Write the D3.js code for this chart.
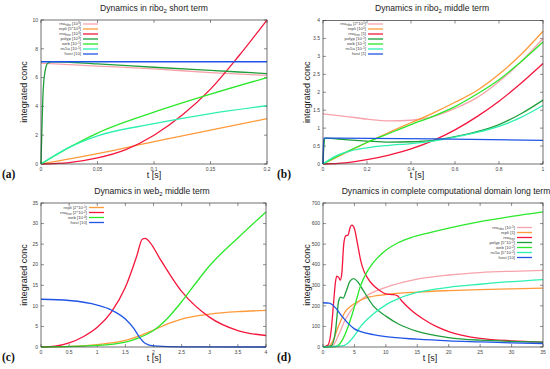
<!DOCTYPE html>
<html>
<head>
<meta charset="utf-8">
<script src="https://cdn.jsdelivr.net/npm/d3@7"></script>
<style>
  body { margin: 0; background: #fff; }
  svg { display: block; font-family: "Liberation Sans", Arial, sans-serif; }
</style>
</head>
<body>
<svg width="550" height="369"></svg>
<script>
// Colours per species
var colRibo = "#f7a3ab", colRepli = "#ff9a3a", colFree = "#f5163c",
    colPolyp = "#1f9e3c", colWeb = "#2be82b", colNs5a = "#2ef0b0", colHost = "#1f55e6";

// (a) ribo2 short term: [t, value]
var aRibo  = [[0,7.0],[0.05,6.8],[0.1,6.6],[0.15,6.35],[0.2,6.15]];
var aRepli = [[0,0],[0.05,0.72],[0.1,1.55],[0.15,2.35],[0.2,3.15]];
var aFree  = [[0,0],[0.025,0.1],[0.05,0.42],[0.075,1.0],[0.1,2.0],[0.125,3.4],[0.15,5.2],[0.175,7.5],[0.2,10.0]];
var aPolyp = [[0,0],[0.001,3.0],[0.002,5.2],[0.004,6.6],[0.006,7.0],[0.01,7.1],[0.05,6.95],[0.1,6.72],[0.15,6.5],[0.2,6.28]];
var aWeb   = [[0,0],[0.025,1.15],[0.05,2.15],[0.1,3.6],[0.15,4.85],[0.2,6.0]];
var aNs5a  = [[0,0],[0.025,1.15],[0.05,1.95],[0.1,2.8],[0.15,3.5],[0.2,4.05]];
var aHost  = [[0,7.1],[0.2,7.1]];

// (b) ribo2 middle term
var bRibo  = [[0,1.4],[0.1,1.33],[0.2,1.25],[0.3,1.2],[0.4,1.22],[0.5,1.32],[0.6,1.55],[0.7,1.85],[0.8,2.3],[0.9,2.85],[1,3.5]];
var bRepli = [[0,0],[0.1,0.3],[0.2,0.6],[0.3,0.88],[0.4,1.15],[0.5,1.42],[0.6,1.72],[0.7,2.05],[0.8,2.5],[0.9,3.05],[1,3.7]];
var bFree  = [[0,0],[0.1,0.03],[0.2,0.12],[0.3,0.25],[0.4,0.42],[0.5,0.65],[0.6,0.95],[0.7,1.32],[0.8,1.75],[0.9,2.25],[1,2.8]];
var bPolyp = [[0,0],[0.004,0.5],[0.01,0.72],[0.1,0.68],[0.2,0.64],[0.3,0.61],[0.4,0.62],[0.5,0.66],[0.6,0.76],[0.7,0.9],[0.8,1.1],[0.9,1.4],[1,1.78]];
var bWeb   = [[0,0],[0.1,0.32],[0.2,0.6],[0.3,0.85],[0.4,1.1],[0.5,1.33],[0.6,1.6],[0.7,1.95],[0.8,2.35],[0.9,2.85],[1,3.4]];
var bNs5a  = [[0,0],[0.05,0.2],[0.1,0.32],[0.2,0.45],[0.3,0.52],[0.4,0.57],[0.5,0.64],[0.6,0.75],[0.7,0.88],[0.8,1.05],[0.9,1.3],[1,1.63]];
var bHost  = [[0,0],[0.003,0.72],[0.5,0.7],[1,0.66]];

// (c) web2 middle term
var cRepli = [[0,0],[0.5,0.15],[1,0.6],[1.5,1.6],[1.75,2.7],[2,4.1],[2.25,5.6],[2.5,6.8],[3,8.0],[3.5,8.6],[4,8.9]];
var cFree  = [[0,0],[0.25,0.2],[0.5,1.0],[0.75,2.5],[1,4.8],[1.25,8.5],[1.5,14.5],[1.7,22],[1.8,26.2],[1.85,26.4],[1.95,25.2],[2.1,21.8],[2.5,13.5],[3,7.2],[3.5,4.0],[4,2.8]];
var cWeb   = [[0,0],[1,0.4],[1.5,1.2],[1.75,2.3],[2,4.0],[2.25,7],[2.5,11],[2.75,15.5],[3,19.8],[3.5,26.5],[4,32.8]];
var cHost  = [[0,11.6],[0.5,11.3],[1,10.2],[1.25,9.0],[1.5,6.8],[1.65,4.5],[1.75,2.4],[1.85,0.9],[2,0.25],[2.5,0.02],[4,0]];

// (d) complete domain long term
var dRibo  = [[0,0],[1.5,5],[2.5,60],[3.5,130],[5,200],[7,250],[10,290],[15,330],[20,350],[25,362],[30,368],[35,372]];
var dRepli = [[0,0],[0.9,2],[1.5,25],[2.5,105],[3.5,170],[4.5,200],[5.5,220],[7,240],[10,255],[15,267],[20,274],[25,279],[30,283],[35,286]];
var dFree  = [[0,0],[0.8,10],[1.3,80],[1.7,220],[2.0,320],[2.2,345],[2.5,338],[2.75,325],[3.0,360],[3.3,500],[3.6,540],[4.0,545],[4.3,580],[4.6,592],[5.0,575],[5.5,500],[6.0,420],[6.5,370],[7,340],[8,300],[9,275],[10,258],[11,255],[11.8,250],[12.5,225],[14,180],[16,135],[18,100],[20,75],[22,58],[25,42],[30,30],[35,24]];
var dPolyp = [[0,0],[1.3,5],[2.0,80],[2.5,225],[2.8,242],[3.2,238],[3.7,272],[4.3,320],[4.9,332],[5.5,318],[6.5,270],[8,200],[10,150],[12,112],[15,76],[20,46],[25,33],[30,27],[35,24]];
var dWeb   = [[0,0],[2,2],[3,30],[4,100],[5,195],[6,300],[7,365],[8,410],[10,470],[12,508],[14,532],[17,556],[20,578],[25,610],[30,635],[35,657]];
var dNs5a  = [[0,0],[3,5],[4,20],[5,55],[6,100],[8,160],[10,205],[12,235],[15,265],[20,290],[25,305],[30,318],[35,328]];
var dHost  = [[0,215],[1,213],[1.5,205],[2,190],[3,150],[4,115],[5,88],[6,75],[8,60],[10,50],[15,38],[20,30],[25,25],[30,20],[35,17]];

// ticks
var aXTicks = [0, 0.05, 0.1, 0.15, 0.2], aYTicks = [0, 2, 4, 6, 8, 10];
var bXTicks = [0, 0.2, 0.4, 0.6, 0.8, 1], bYTicks = [0, 0.5, 1, 1.5, 2, 2.5, 3, 3.5, 4];
var cXTicks = [0, 0.5, 1, 1.5, 2, 2.5, 3, 3.5, 4], cYTicks = [0, 5, 10, 15, 20, 25, 30, 35];
var dXTicks = [0, 5, 10, 15, 20, 25, 30, 35], dYTicks = [0, 100, 200, 300, 400, 500, 600, 700];

// legend labels: _{} subscript, ^{} superscript
var aLabels = ["rna_{ribo} [10^{3}]", "repli [5*10^{3}]", "rna_{free} [10^{3}]", "polyp [10^{3}]", "web [10^{-1}]", "ns5a [10^{-1}]", "host [10]"];
var bLabels = ["rna_{ribo} [2*10^{1}]", "repli [10^{1}]", "rna_{free} [1]", "polyp [10^{-1}]", "web [10^{-1}]", "ns5a [10^{-1}]", "host [1]"];
var cLabels = ["repli [2*10^{-1}]", "rna_{free} [2*10^{-2}]", "web [10^{-4}]", "host [10]"];
var dLabels = ["rna_{ribo} [10^{-1}]", "repli [1]", "rna_{free}", "polyp [5*10^{-2}]", "web [10^{-2}]", "ns5a [5*10^{-2}]", "host [10]"];

var svg = d3.select("svg");

// text with _{sub} and ^{sup} parts, using baseline-shift
function richText(sel, str, small) {
  var parts = str.split(/([_^]\{[^}]*\})/).filter(s => s.length);
  parts.forEach(p => {
    var t = sel.append("tspan");
    if (p[0] === "_") t.attr("baseline-shift", "-30%").style("font-size", small).text(p.slice(2, -1));
    else if (p[0] === "^") t.attr("baseline-shift", "40%").style("font-size", small).text(p.slice(2, -1));
    else t.text(p);
  });
}

function panel(p) {
  var x = d3.scaleLinear().domain(p.xDomain).range([p.x0, p.x1]);
  var y = d3.scaleLinear().domain(p.yDomain).range([p.y1, p.y0]);
  var g = svg.append("g");

  // ticks on all four sides (inward)
  var tl = 3;
  p.xTicks.forEach(v => {
    g.append("line").attr("x1", x(v)).attr("x2", x(v)).attr("y1", p.y1).attr("y2", p.y1 - tl).attr("stroke", "#444").attr("stroke-width", 0.6);
    g.append("line").attr("x1", x(v)).attr("x2", x(v)).attr("y1", p.y0).attr("y2", p.y0 + tl).attr("stroke", "#444").attr("stroke-width", 0.6);
    g.append("text").attr("x", x(v)).attr("y", p.y1 + 6.5).attr("text-anchor", "middle")
      .style("font-size", "5px").attr("fill", "#444").text(v);
  });
  p.yTicks.forEach(v => {
    g.append("line").attr("x1", p.x0).attr("x2", p.x0 + tl).attr("y1", y(v)).attr("y2", y(v)).attr("stroke", "#444").attr("stroke-width", 0.6);
    g.append("line").attr("x1", p.x1).attr("x2", p.x1 - tl).attr("y1", y(v)).attr("y2", y(v)).attr("stroke", "#444").attr("stroke-width", 0.6);
    g.append("text").attr("x", p.x0 - 3).attr("y", y(v) + 1.7).attr("text-anchor", "end")
      .style("font-size", "5px").attr("fill", "#444").text(v);
  });

  var line = d3.line().x(d => x(d[0])).y(d => y(d[1])).curve(d3.curveMonotoneX);
  p.series.forEach(s => {
    g.append("path").datum(s.data).attr("d", line)
      .attr("fill", "none").attr("stroke", s.color).attr("stroke-width", 1.3);
  });

  g.append("rect").attr("x", p.x0).attr("y", p.y0).attr("width", p.x1 - p.x0).attr("height", p.y1 - p.y0)
    .attr("fill", "none").attr("stroke", "#333").attr("stroke-width", 0.7);

  // legend
  p.series.forEach((s, i) => {
    var ly = p.legY + i * 5;
    g.append("line").attr("x1", p.legX).attr("x2", p.legX + 15).attr("y1", ly).attr("y2", ly)
      .attr("stroke", s.color).attr("stroke-width", 1.3);
    var t = g.append("text").attr("x", p.legX - 2).attr("y", ly + 1.4).attr("text-anchor", "end")
      .style("font-size", "4.3px").attr("fill", "#444");
    richText(t, p.labels[i], "3.2px");
  });

  // title
  var tt = g.append("text").attr("x", p.titleX).attr("y", p.titleY).attr("text-anchor", "middle")
    .style("font-size", "8.6px").attr("fill", "#222");
  richText(tt, p.title, "6px");

  g.append("text").attr("x", p.xlabX).attr("y", p.y1 + 14).attr("text-anchor", "middle")
    .style("font-size", "9px").attr("fill", "#222").text("t [s]");
  g.append("text").attr("transform", `translate(${p.ylabX},${(p.y0 + p.y1) / 2}) rotate(-90)`)
    .attr("text-anchor", "middle").style("font-size", "9px").attr("fill", "#222").text("integrated conc");

  g.append("text").attr("x", p.tagX).attr("y", p.y1 + 14)
    .style("font-family", "'Liberation Serif', 'DejaVu Serif', serif").style("font-weight", "bold")
    .style("font-size", "11.5px").attr("fill", "#111").text(p.tag);
}

panel({
  x0: 41, x1: 267, y0: 20, y1: 164, xDomain: [0, 0.2], yDomain: [0, 10],
  xTicks: aXTicks, yTicks: aYTicks, labels: aLabels, legX: 83, legY: 24,
  title: "Dynamics in ribo_{2} short term", titleX: 154, titleY: 11, xlabX: 154, ylabX: 27, tag: "(a)", tagX: 2,
  series: [{data: aRibo, color: colRibo}, {data: aRepli, color: colRepli}, {data: aFree, color: colFree},
           {data: aPolyp, color: colPolyp}, {data: aWeb, color: colWeb}, {data: aNs5a, color: colNs5a}, {data: aHost, color: colHost}]
});
panel({
  x0: 323, x1: 543, y0: 20.5, y1: 164, xDomain: [0, 1], yDomain: [0, 4],
  xTicks: bXTicks, yTicks: bYTicks, labels: bLabels, legX: 368, legY: 24,
  title: "Dynamics in ribo_{2} middle term", titleX: 432, titleY: 11, xlabX: 417, ylabX: 310, tag: "(b)", tagX: 277,
  series: [{data: bRibo, color: colRibo}, {data: bRepli, color: colRepli}, {data: bFree, color: colFree},
           {data: bPolyp, color: colPolyp}, {data: bWeb, color: colWeb}, {data: bNs5a, color: colNs5a}, {data: bHost, color: colHost}]
});
panel({
  x0: 41, x1: 266, y0: 203, y1: 347, xDomain: [0, 4], yDomain: [0, 35],
  xTicks: cXTicks, yTicks: cYTicks, labels: cLabels, legX: 89, legY: 207.5,
  title: "Dynamics in web_{2} middle term", titleX: 152, titleY: 194, xlabX: 154, ylabX: 27, tag: "(c)", tagX: 2,
  series: [{data: cRepli, color: colRepli}, {data: cFree, color: colFree}, {data: cWeb, color: colWeb}, {data: cHost, color: colHost}]
});
panel({
  x0: 323, x1: 543, y0: 203, y1: 347, xDomain: [0, 35], yDomain: [0, 700],
  xTicks: dXTicks, yTicks: dYTicks, labels: dLabels, legX: 517, legY: 227.5,
  title: "Dynamics in complete computational domain long term", titleX: 446, titleY: 194, xlabX: 430, ylabX: 310, tag: "(d)", tagX: 277,
  series: [{data: dRibo, color: colRibo}, {data: dRepli, color: colRepli}, {data: dFree, color: colFree},
           {data: dPolyp, color: colPolyp}, {data: dWeb, color: colWeb}, {data: dNs5a, color: colNs5a}, {data: dHost, color: colHost}]
});
</script>
</body>
</html>
